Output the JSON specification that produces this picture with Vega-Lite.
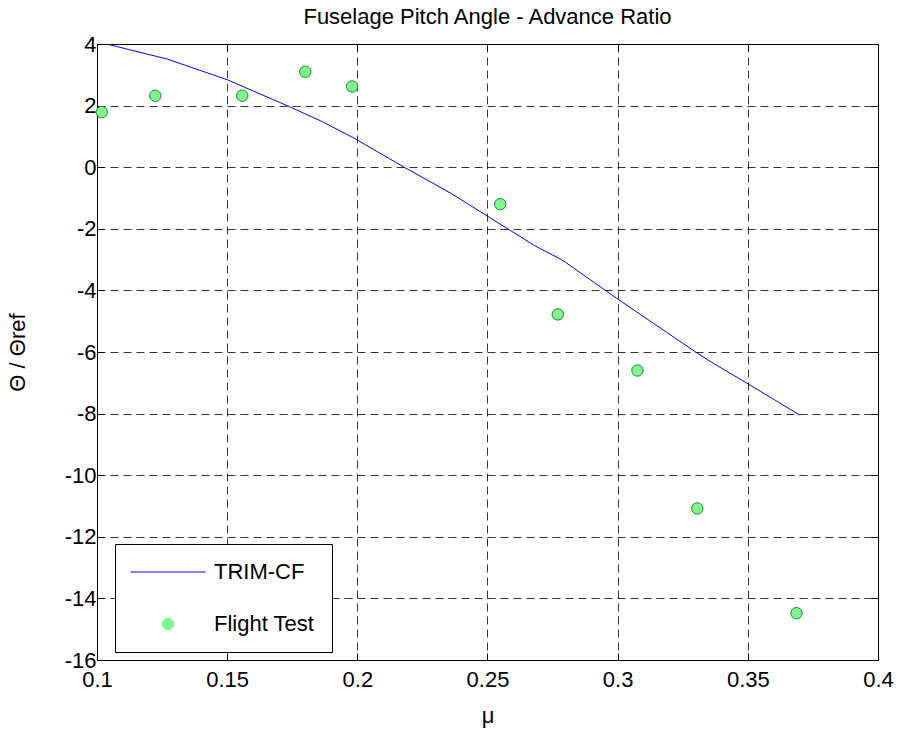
{
  "$schema": "https://vega.github.io/schema/vega-lite/v6.json",
  "width": 781,
  "height": 616,
  "autosize": {"type": "none"},
  "padding": {"left": 97, "top": 44, "right": 21, "bottom": 73},
  "background": "white",
  "title": {"text": "Fuselage Pitch Angle - Advance Ratio", "font": "Liberation Sans", "fontSize": 22, "fontWeight": "normal", "color": "black", "offset": 4},
  "config": {
    "view": {"stroke": "black", "strokeWidth": 1},
    "font": "Liberation Sans",
    "axis": {
      "labelFont": "Liberation Sans", "labelFontSize": 22, "labelColor": "black",
      "titleFont": "Liberation Sans", "titleFontSize": 22, "titleFontWeight": "normal", "titleColor": "black",
      "grid": true, "gridColor": "black", "gridDash": [8, 5], "gridOpacity": 0.8,
      "domain": false, "tickColor": "black", "tickSize": -7, "labelPadding": 5,
      "labelFlush": false, "labelOverlap": false
    }
  },
  "resolve": {"axis": {"x": "independent", "y": "independent"}},
  "datasets": {
    "trim": [
      {"mu": 0.1037, "theta": 4.0, "series": "TRIM-CF"},
      {"mu": 0.127, "theta": 3.51, "series": "TRIM-CF"},
      {"mu": 0.150, "theta": 2.84, "series": "TRIM-CF"},
      {"mu": 0.173, "theta": 2.0, "series": "TRIM-CF"},
      {"mu": 0.1865, "theta": 1.48, "series": "TRIM-CF"},
      {"mu": 0.199, "theta": 0.93, "series": "TRIM-CF"},
      {"mu": 0.218, "theta": 0.0, "series": "TRIM-CF"},
      {"mu": 0.236, "theta": -0.85, "series": "TRIM-CF"},
      {"mu": 0.268, "theta": -2.54, "series": "TRIM-CF"},
      {"mu": 0.279, "theta": -3.03, "series": "TRIM-CF"},
      {"mu": 0.300, "theta": -4.28, "series": "TRIM-CF"},
      {"mu": 0.331, "theta": -6.06, "series": "TRIM-CF"},
      {"mu": 0.336, "theta": -6.33, "series": "TRIM-CF"},
      {"mu": 0.350, "theta": -7.03, "series": "TRIM-CF"},
      {"mu": 0.370, "theta": -8.05, "series": "TRIM-CF"}
    ],
    "flight": [
      {"mu": 0.1018, "theta": 1.79, "series": "Flight Test"},
      {"mu": 0.1224, "theta": 2.32, "series": "Flight Test"},
      {"mu": 0.1558, "theta": 2.32, "series": "Flight Test"},
      {"mu": 0.180, "theta": 3.1, "series": "Flight Test"},
      {"mu": 0.198, "theta": 2.62, "series": "Flight Test"},
      {"mu": 0.2549, "theta": -1.2, "series": "Flight Test"},
      {"mu": 0.277, "theta": -4.78, "series": "Flight Test"},
      {"mu": 0.3076, "theta": -6.6, "series": "Flight Test"},
      {"mu": 0.3306, "theta": -11.08, "series": "Flight Test"},
      {"mu": 0.3687, "theta": -14.48, "series": "Flight Test"}
    ]
  },
  "layer": [
    {
      "data": {"name": "trim"},
      "mark": {"type": "line", "strokeWidth": 1, "clip": true},
      "encoding": {
        "x": {"field": "mu", "type": "quantitative", "scale": {"domain": [0.1, 0.4], "nice": false, "zero": false}, "axis": {"orient": "bottom", "values": [0.1, 0.15, 0.2, 0.25, 0.3, 0.35, 0.4], "labelExpr": "toString(datum.value)", "labelPadding": 16, "title": "μ", "titlePadding": 15}},
        "y": {"field": "theta", "type": "quantitative", "scale": {"domain": [-16, 4], "nice": false, "zero": false}, "axis": {"orient": "left", "values": [-16, -14, -12, -10, -8, -6, -4, -2, 0, 2, 4], "labelExpr": "toString(datum.value)", "labelPadding": 8, "title": "Θ  / Θref", "titlePadding": 35}},
        "color": {"field": "series", "type": "nominal", "scale": {"domain": ["TRIM-CF", "Flight Test"], "range": ["#0000ff", "#80f590"]},
          "legend": {
            "title": null, "orient": "none", "legendX": 18, "legendY": 500,
            "direction": "vertical",
            "strokeColor": "black", "fillColor": "white", "padding": 17,
            "labelFont": "Liberation Sans", "labelFontSize": 22, "labelColor": "black",
            "symbolOffset": 25, "labelOffset": 35, "rowPadding": 30,
            "symbolSize": 130, "symbolStrokeColor": "#1a8a2a", "symbolStrokeWidth": 1,
            "encode": {
              "symbols": {
                "enter": {
                  "stroke": {"signal": "datum.value === 'TRIM-CF' ? '#0000ff' : '#1a8a2a'"},
                  "strokeWidth": {"value": 1}
                },
                "update": {
                "shape": {"signal": "datum.value === 'TRIM-CF' ? 'M-3,0H3' : 'circle'"},
                "size": {"signal": "datum.value === 'TRIM-CF' ? 625 : 130"},
                "fill": {"signal": "datum.value === 'TRIM-CF' ? 'transparent' : '#80f590'"},
                "stroke": {"signal": "datum.value === 'TRIM-CF' ? '#0000ff' : '#1a8a2a'"},
                "strokeWidth": {"value": 1},
                "strokeOpacity": {"value": 1},
                "opacity": {"value": 1}
              }}
            }
          }
        }
      }
    },
    {
      "data": {"name": "flight"},
      "mark": {"type": "point", "filled": true, "size": 130, "stroke": "#1a8a2a", "strokeWidth": 1, "opacity": 1},
      "encoding": {
        "x": {"field": "mu", "type": "quantitative", "axis": {"orient": "top", "values": [0.1, 0.15, 0.2, 0.25, 0.3, 0.35, 0.4], "labels": false, "grid": false, "title": null}},
        "y": {"field": "theta", "type": "quantitative", "axis": {"orient": "right", "values": [-16, -14, -12, -10, -8, -6, -4, -2, 0, 2, 4], "labels": false, "grid": false, "title": null}},
        "color": {"field": "series", "type": "nominal"}
      }
    }
  ]
}
